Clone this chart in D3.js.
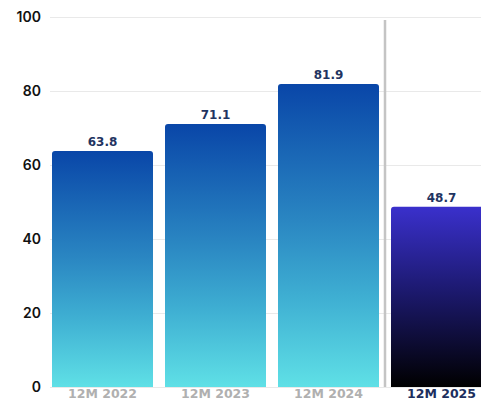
<!DOCTYPE html>
<html>
<head>
<meta charset="utf-8">
<script src="https://cdn.jsdelivr.net/npm/d3@7"></script>
<style>
  html, body { margin: 0; padding: 0; background: #fff; }
  svg { display: block; }
</style>
</head>
<body>
<svg id="chart" width="481" height="400"></svg>
<script>
// Twelve-month totals per period
const categories = ["12M 2022", "12M 2023", "12M 2024", "12M 2025"];
const values = [63.8, 71.1, 81.9, 48.7];
const yTicks = [0, 20, 40, 60, 80, 100];

const svg = d3.select("#chart");
const W = 481, H = 400;

const y = d3.scaleLinear().domain([0, 100]).range([387, 17]);
const x = d3.scaleBand()
  .domain(categories)
  .range([46, 498])
  .paddingInner(12 / 113)
  .paddingOuter(6 / 113);

const defs = svg.append("defs");
const gPast = defs.append("linearGradient").attr("id", "gradPast")
  .attr("x1", 0).attr("y1", 0).attr("x2", 0).attr("y2", 1);
gPast.append("stop").attr("offset", "0%").attr("stop-color", "#0946a8");
gPast.append("stop").attr("offset", "45%").attr("stop-color", "#2a86c2");
gPast.append("stop").attr("offset", "70%").attr("stop-color", "#3eaed2");
gPast.append("stop").attr("offset", "100%").attr("stop-color", "#5fe0e6");

const gCur = defs.append("linearGradient").attr("id", "gradCur")
  .attr("x1", 0).attr("y1", 0).attr("x2", 0).attr("y2", 1);
gCur.append("stop").attr("offset", "0%").attr("stop-color", "#3a30cc");
gCur.append("stop").attr("offset", "45%").attr("stop-color", "#1d1a72");
gCur.append("stop").attr("offset", "100%").attr("stop-color", "#000000");

// Horizontal gridlines
svg.append("g").selectAll("line").data(yTicks).join("line")
  .attr("x1", 50).attr("x2", W)
  .attr("y1", d => y(d) + 0.5).attr("y2", d => y(d) + 0.5)
  .attr("stroke", "#e9e9e9").attr("stroke-width", 1);

// Y axis labels
const yAxis = d3.axisLeft(y).tickValues(yTicks).tickSize(0).tickPadding(0);
const yG = svg.append("g").attr("transform", "translate(41,0)").call(yAxis);
yG.select(".domain").remove();
yG.selectAll("text")
  .attr("font-family", "Inter, 'Liberation Sans', sans-serif")
  .attr("font-size", 14).attr("font-weight", 600).attr("fill", "#111");

// Bars with slightly rounded tops
const r = 3;
function barPath(d, i) {
  const x0 = x(categories[i]), w = x.bandwidth();
  const y0 = y(d), y1 = y(0);
  return `M${x0},${y1}V${y0 + r}Q${x0},${y0} ${x0 + r},${y0}H${x0 + w - r}Q${x0 + w},${y0} ${x0 + w},${y0 + r}V${y1}Z`;
}
svg.append("g").selectAll("path").data(values).join("path")
  .attr("d", barPath)
  .attr("fill", (d, i) => i === categories.length - 1 ? "url(#gradCur)" : "url(#gradPast)");

// Separator before the current period
const sepX = (x(categories[2]) + x.bandwidth() + x(categories[3])) / 2;
svg.append("line")
  .attr("x1", sepX).attr("x2", sepX)
  .attr("y1", 20).attr("y2", y(0))
  .attr("stroke", "#c4c4c4").attr("stroke-width", 2.5);

// Value labels
svg.append("g").selectAll("text").data(values).join("text")
  .attr("x", (d, i) => x(categories[i]) + x.bandwidth() / 2)
  .attr("y", d => y(d) - 5)
  .attr("text-anchor", "middle")
  .attr("font-family", "'DejaVu Sans', sans-serif")
  .attr("font-size", 12).attr("font-weight", 700)
  .attr("fill", "#1f3461")
  .text(d => d.toFixed(1));

// Category labels
svg.append("g").selectAll("text").data(categories).join("text")
  .attr("x", d => x(d) + x.bandwidth() / 2)
  .attr("y", 398)
  .attr("text-anchor", "middle")
  .attr("font-family", "'DejaVu Sans', sans-serif")
  .attr("font-size", 12.5).attr("font-weight", 700)
  .attr("fill", (d, i) => i === categories.length - 1 ? "#1d2f5e" : "#b0b0b0")
  .text(d => d);
</script>
</body>
</html>
